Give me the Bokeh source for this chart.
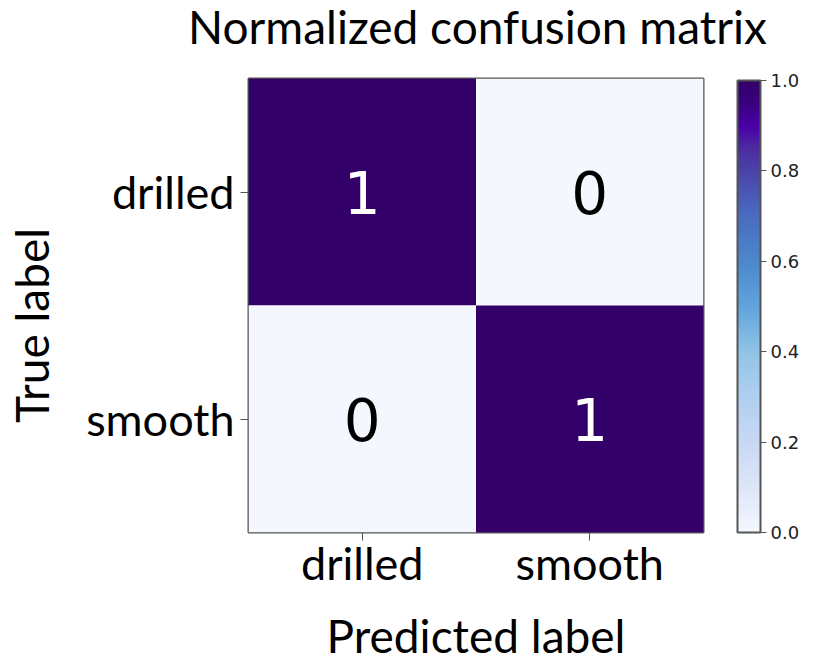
import numpy as np
from bokeh.plotting import figure
from bokeh.models import (ColumnDataSource, LinearColorMapper, ColorBar,
                          FixedTicker, PrintfTickFormatter, Label)
from bokeh.transform import transform
from bokeh.core.properties import value
from bokeh.embed import file_html
from bokeh.resources import INLINE

# ---- data ----
classes = ["drilled", "smooth"]
true_labels = ["drilled", "drilled", "smooth", "smooth"]
pred_labels = ["drilled", "smooth", "drilled", "smooth"]
values = [1.0, 0.0, 0.0, 1.0]
cell_text = ["1", "0", "0", "1"]
cbar_ticks = [0.0, 0.2, 0.4, 0.6, 0.8, 1.0]
title_text = "Normalized confusion matrix"
x_label_text = "Predicted label"
y_label_text = "True label"

# ---- colour map (style) ----
anchor_pos = [0.0, 0.1, 0.2, 0.3, 0.4, 0.5, 0.6, 0.7, 0.75, 0.8, 0.85, 0.9, 0.95, 1.0]
anchor_col = ["#f4f8fe", "#dde6f8", "#c8d8f4", "#b0cff0", "#90c4e6", "#60a4dc",
              "#4c88cc", "#4a6cc0", "#4a58b4", "#4a44a8", "#4c2ca0", "#4a00a8",
              "#3a0080", "#33006a"]


def hex2rgb(h):
    return [int(h[i:i + 2], 16) for i in (1, 3, 5)]


rgb = np.array([hex2rgb(c) for c in anchor_col], dtype=float)
xs = np.linspace(0, 1, 256)
palette = []
for x in xs:
    r = np.interp(x, anchor_pos, rgb[:, 0])
    g = np.interp(x, anchor_pos, rgb[:, 1])
    b = np.interp(x, anchor_pos, rgb[:, 2])
    palette.append("#%02x%02x%02x" % (int(round(r)), int(round(g)), int(round(b))))

text_colors = ["white" if v > 0.5 else "black" for v in values]

source = ColumnDataSource(dict(true=true_labels, pred=pred_labels, val=values,
                               txt=cell_text, tc=text_colors))

p = figure(width=829, height=668, x_range=classes,
           y_range=list(reversed(classes)),
           output_backend="svg", toolbar_location=None, tools="",
           min_border_left=248, min_border_right=126, min_border_top=78,
           min_border_bottom=136)

mapper = LinearColorMapper(palette=palette, low=0.0, high=1.0)
p.rect(x="pred", y="true", width=1, height=1, source=source,
       fill_color=transform("val", mapper), line_color=None)
p.text(x="pred", y="true", text="txt", source=source, text_color="tc",
       text_font=value("DejaVu Sans"), text_font_size="58px",
       text_align="center", text_baseline="middle")

p.grid.visible = False
p.outline_line_color = "#555555"
p.outline_line_width = 2
p.background_fill_color = None
p.border_fill_color = "white"

for ax in (p.xaxis[0], p.yaxis[0]):
    ax.axis_line_color = None
    ax.major_tick_line_color = "#555555"
    ax.major_tick_out = 8
    ax.major_tick_in = 0
    ax.major_label_text_font = "Lato"
    ax.major_label_text_font_size = "45px"
    ax.major_label_text_color = "black"
    ax.axis_label_text_font = "Lato"
    ax.axis_label_text_font_size = "46px"
    ax.axis_label_text_font_style = "normal"
    ax.axis_label_text_color = "black"

p.xaxis.axis_label = x_label_text
p.yaxis.major_label_orientation = "horizontal"
p.xaxis.major_label_standoff = -5
p.yaxis.major_label_standoff = 6
p.xaxis.axis_label_standoff = 15

common = dict(x_units="screen", y_units="screen", text_font="Lato",
              text_font_size="46px", text_color="black",
              text_baseline="alphabetic", text_align="center")
# title in the panel above the frame
p.add_layout(Label(x=229, y=52, text=title_text, **common), "above")
# y-axis label, rotated, in the left panel
p.add_layout(Label(x=3, y=207, angle=np.pi / 2, text=y_label_text, **common),
             "left")

cb = ColorBar(color_mapper=mapper, width=23, height=452, padding=0, margin=0,
              location=(489, 0),
              ticker=FixedTicker(ticks=cbar_ticks),
              formatter=PrintfTickFormatter(format="%.1f"),
              major_tick_out=6, major_tick_in=0,
              major_tick_line_color="#555555",
              bar_line_color="#555555", bar_line_width=2,
              major_label_text_font="DejaVu Sans",
              major_label_text_font_size="18px",
              major_label_text_color="#222222",
              label_standoff=4, border_line_color=None,
              background_fill_color=None)
p.add_layout(cb, "center")

open("out.html", "w").write(file_html(p, INLINE))
